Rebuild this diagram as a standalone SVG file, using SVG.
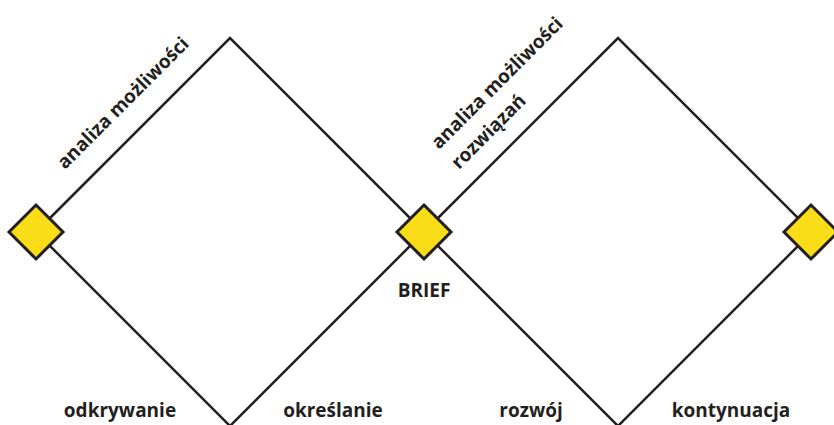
<svg xmlns="http://www.w3.org/2000/svg" width="834" height="425" viewBox="0 0 834 425">
<style>
.edge{fill:none;stroke:#231f20;stroke-width:2.5;stroke-linejoin:miter}
.key{fill:#f9dd17;stroke:#231f20;stroke-width:3}
.lbl{font-family:"Open Sans","Liberation Sans",sans-serif;font-weight:700;font-size:19px;fill:#231f20}
</style>
<rect width="834" height="425" fill="#ffffff"/>
<g id="connectors">
<polygon class="edge" points="36,232 230,38 424,232 230,426"/>
<polygon class="edge" points="424,232 618,38 812,232 618,426"/>
</g>
<g id="node-start"><polygon class="key" points="36,205 63,232 36,259 9,232"/></g>
<g id="node-brief"><polygon class="key" points="424,205 451,232 424,259 397,232"/>
<text class="lbl" x="424" y="297" text-anchor="middle">BRIEF</text></g>
<g id="node-end"><polygon class="key" points="811,205 838,232 811,259 784,232"/></g>
<g id="label-left"><text class="lbl" x="65" y="170" transform="rotate(-45 65 170)">analiza możliwości</text></g>
<g id="label-right"><text class="lbl" x="439" y="150" transform="rotate(-45 439 150)">analiza możliwości</text>
<text class="lbl" x="459" y="170" transform="rotate(-45 459 170)">rozwiązań</text></g>
<g id="phases">
<text class="lbl" x="120" y="417" text-anchor="middle">odkrywanie</text>
<text class="lbl" x="333" y="417" text-anchor="middle">określanie</text>
<text class="lbl" x="531" y="417" text-anchor="middle">rozwój</text>
<text class="lbl" x="731" y="417" text-anchor="middle">kontynuacja</text>
</g>
</svg>
